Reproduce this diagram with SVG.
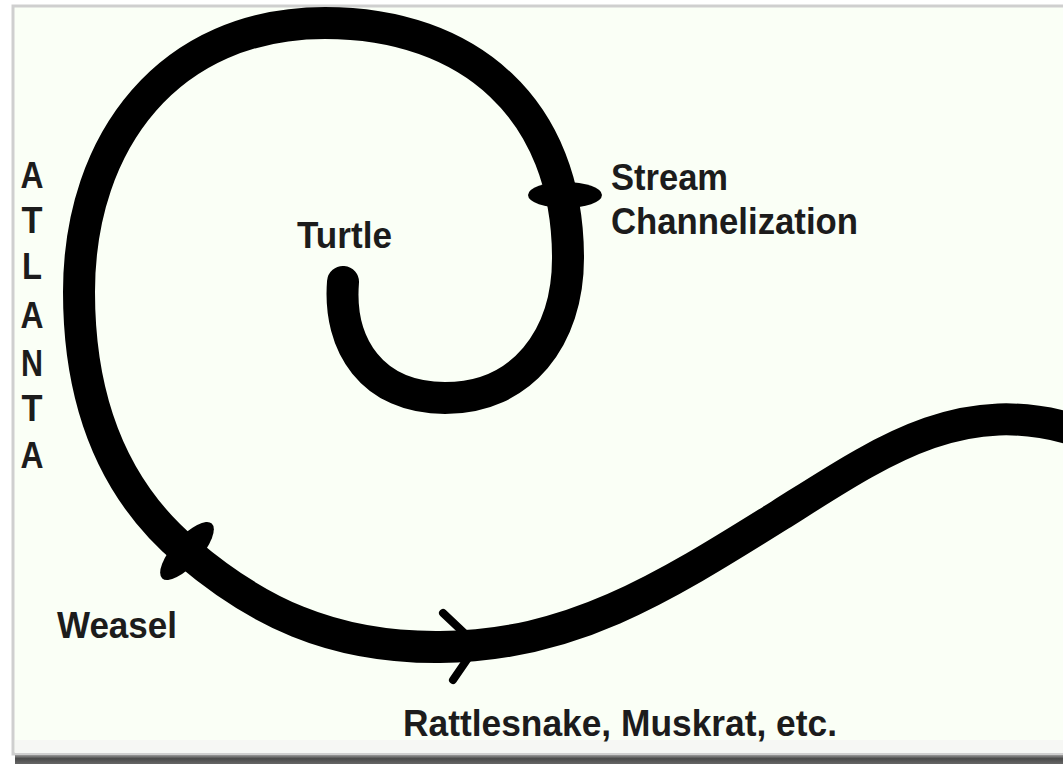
<svg xmlns="http://www.w3.org/2000/svg" width="1063" height="764" viewBox="0 0 1063 764">
  <defs>
    <linearGradient id="shadow" x1="0" y1="0" x2="0" y2="1">
      <stop offset="0" stop-color="#9a9a9a"/>
      <stop offset="0.4" stop-color="#4a4a4a"/>
      <stop offset="1" stop-color="#666"/>
    </linearGradient>
  </defs>
  <style>
    .lbl { font-family: "Liberation Sans", Arial, sans-serif; font-weight: bold; font-size: 36px; fill: #1c1c1c; }
    .vert { text-anchor: middle; }
    .line { fill: none; stroke: #000; stroke-width: 32; stroke-linecap: round; stroke-linejoin: round; }
    .tick { fill: #000; }
    .arrow { fill: none; stroke: #000; stroke-width: 8; stroke-linecap: round; stroke-linejoin: miter; }
  </style>
  <rect x="0" y="0" width="1063" height="764" fill="#ffffff"/>
  <rect x="13" y="6" width="1052" height="748" fill="#fafff6" stroke="#cfcfcf" stroke-width="3"/>
  <rect x="15" y="740" width="1048" height="13" fill="#f6f7f4"/>
  <rect x="15" y="755" width="1048" height="9" fill="url(#shadow)"/>

  <g id="connectors">
    <path class="line" d="M 343,282 C 338,345 372,398 445,398 C 522,398 568,338 568,258 C 568,110 470,23 325,23 C 170,23 79,140 79,292 C 79,420 125,500 187,552 C 255,610 330,648 440,647 C 570,646 660,590 780,515 C 880,452 960,395 1075,430"/>
    <path class="arrow" d="M 443,613 L 477,645 L 453,680"/>
  </g>

  <g id="stream-marker">
    <ellipse class="tick" cx="565" cy="195" rx="37" ry="13"/>
  </g>
  <g id="weasel-marker">
    <ellipse class="tick" cx="187" cy="551" rx="37" ry="14" transform="rotate(-48 187 551)"/>
  </g>

  <g id="atlanta">
    <text class="lbl vert" x="32" y="188" textLength="23" lengthAdjust="spacingAndGlyphs">A</text>
    <text class="lbl vert" x="32" y="233" textLength="21" lengthAdjust="spacingAndGlyphs">T</text>
    <text class="lbl vert" x="32" y="279" textLength="20" lengthAdjust="spacingAndGlyphs">L</text>
    <text class="lbl vert" x="32" y="328" textLength="23" lengthAdjust="spacingAndGlyphs">A</text>
    <text class="lbl vert" x="32" y="376" textLength="22" lengthAdjust="spacingAndGlyphs">N</text>
    <text class="lbl vert" x="32" y="421" textLength="21" lengthAdjust="spacingAndGlyphs">T</text>
    <text class="lbl vert" x="32" y="468" textLength="23" lengthAdjust="spacingAndGlyphs">A</text>
  </g>
  <g id="stream">
    <text class="lbl" x="611" y="190" textLength="117" lengthAdjust="spacingAndGlyphs">Stream</text>
    <text class="lbl" x="611" y="234" textLength="247" lengthAdjust="spacingAndGlyphs">Channelization</text>
  </g>
  <g id="turtle">
    <text class="lbl" x="297" y="248" textLength="95" lengthAdjust="spacingAndGlyphs">Turtle</text>
  </g>
  <g id="weasel">
    <text class="lbl" x="57" y="638" textLength="120" lengthAdjust="spacingAndGlyphs">Weasel</text>
  </g>
  <g id="rattlesnake">
    <text class="lbl" x="403" y="736" textLength="434" lengthAdjust="spacingAndGlyphs">Rattlesnake, Muskrat, etc.</text>
  </g>
</svg>
